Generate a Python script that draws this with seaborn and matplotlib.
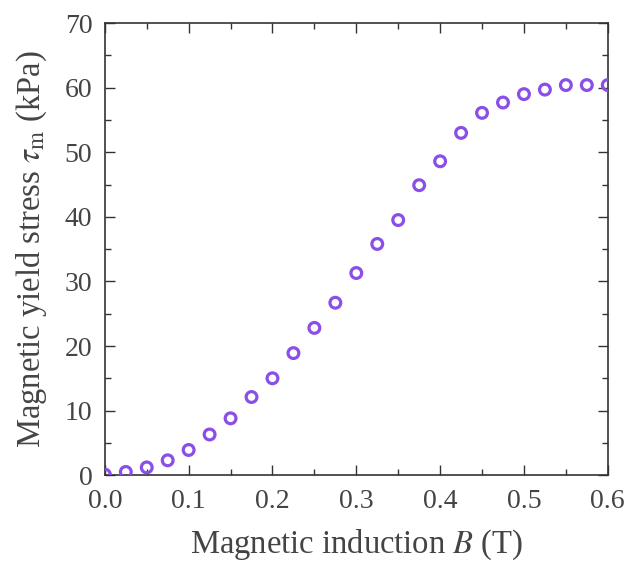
import numpy as np
import pandas as pd
import seaborn as sns
import matplotlib
matplotlib.use("Agg")
import matplotlib.pyplot as plt
from matplotlib.ticker import MultipleLocator

# Data
induction_T = [0.0, 0.025, 0.05, 0.075, 0.1, 0.125, 0.15, 0.175, 0.2, 0.225,
               0.25, 0.275, 0.3, 0.325, 0.35, 0.375, 0.4, 0.425, 0.45, 0.475,
               0.5, 0.525, 0.55, 0.575, 0.6]
yield_stress_kPa = [0.1, 0.5, 1.2, 2.3, 3.9, 6.3, 8.8, 12.1, 15.0, 18.9,
                    22.8, 26.7, 31.3, 35.8, 39.5, 44.9, 48.6, 53.0, 56.1, 57.7,
                    59.0, 59.7, 60.4, 60.4, 60.4]
x_ticks = [0.0, 0.1, 0.2, 0.3, 0.4, 0.5, 0.6]
y_ticks = [0, 10, 20, 30, 40, 50, 60, 70]

df = pd.DataFrame({"B": induction_T, "tau": yield_stress_kPa})

sns.set_style("ticks")
plt.rcParams["font.family"] = ["Liberation Serif", "DejaVu Serif"]
plt.rcParams["mathtext.fontset"] = "stix"

fig = plt.figure(figsize=(6.24, 5.63), dpi=100)
ax = fig.add_axes([0.168, 0.156, 0.806, 0.803])

sns.scatterplot(data=df, x="B", y="tau", ax=ax, marker="o", s=60,
                facecolor="none", edgecolor="#8a4fe8", linewidth=2.3,
                legend=False, zorder=3)

ax.set_xlim(0, 0.6)
ax.set_ylim(0, 70)
ax.set_xticks(x_ticks)
ax.set_yticks(y_ticks)
ax.set_xticklabels([f"{v:.1f}" for v in x_ticks])
ax.set_yticklabels([str(v) for v in y_ticks])
ax.xaxis.set_minor_locator(MultipleLocator(0.05))
ax.yaxis.set_minor_locator(MultipleLocator(5))

tc = "#444444"
ax.tick_params(which="both", direction="in", top=True, right=True,
               color="#333333", width=1.0)
ax.tick_params(which="major", length=7, labelsize=20, labelcolor=tc)
ax.tick_params(axis="x", which="major", pad=10)
ax.tick_params(axis="y", which="major", pad=9)
ax.tick_params(which="minor", length=4)
for sp in ax.spines.values():
    sp.set_color("#333333")
    sp.set_linewidth(1.2)

ax.set_xlabel("Magnetic induction $B$ (T)", fontsize=23.5, color=tc, labelpad=10)
ax.set_ylabel(r"Magnetic yield stress $\tau_\mathrm{m}$ (kPa)", fontsize=23.5,
              color=tc, labelpad=11)

fig.savefig("out.png", dpi=100)
